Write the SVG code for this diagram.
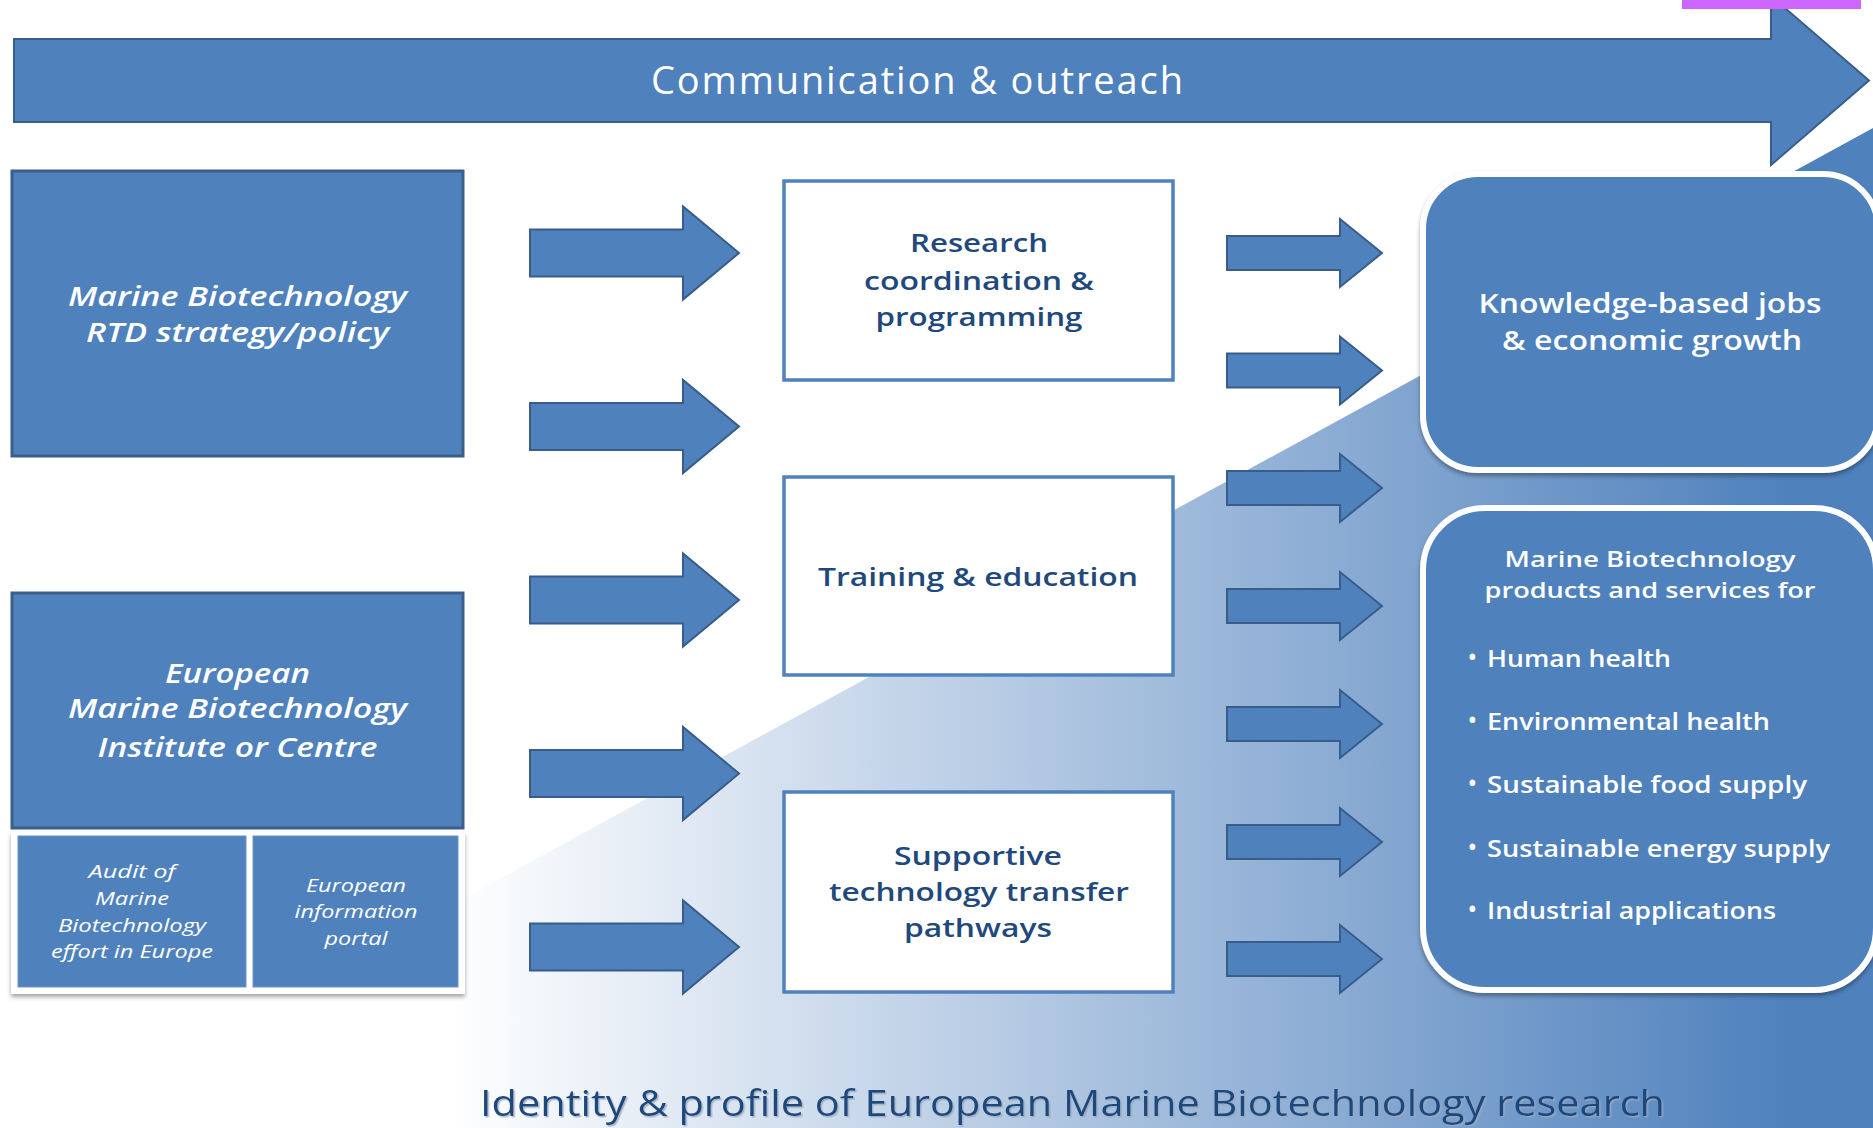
<svg xmlns="http://www.w3.org/2000/svg" width="1873" height="1128" viewBox="0 0 1873 1128">
  <defs>
    <linearGradient id="bgGrad" gradientUnits="userSpaceOnUse" x1="450" y1="0" x2="1790" y2="0">
      <stop offset="0" stop-color="#ffffff"/>
      <stop offset="1" stop-color="#4f81bd"/>
    </linearGradient>
    <filter id="shadow" x="-5%" y="-5%" width="115%" height="120%">
      <feDropShadow dx="0" dy="3" stdDeviation="2" flood-color="#000000" flood-opacity="0.35"/>
    </filter>
    <filter id="txtShadow" x="-2%" y="-20%" width="104%" height="150%">
      <feDropShadow dx="1.5" dy="1.5" stdDeviation="0.6" flood-color="#9aa9bd" flood-opacity="0.8"/>
    </filter>
    <!-- block arrow, left column -->
    <path id="arrowL" d="M530,-23.5 H683 V-46.5 L739,0 L683,46.5 V23.5 H530 Z"/>
    <!-- block arrow, right column -->
    <path id="arrowR" d="M1227,-17 H1340 V-34 L1382,0 L1340,34 V17 H1227 Z"/>
  </defs>
  <style>
    .blue { fill: #4f81bd; stroke: #3a5f8b; stroke-width: 3; }
    .arrow { fill: #4f81bd; stroke: #385d8a; stroke-width: 2; stroke-linejoin: miter; }
    .mid { fill: #ffffff; stroke: #4f81bd; stroke-width: 3.5; }
    .sub { fill: #4f81bd; stroke: #6d97c9; stroke-width: 1; }
    .round { fill: #4f81bd; stroke: #ffffff; stroke-width: 6; }
    .it { font-family: "Open Sans", "DejaVu Sans", sans-serif; font-style: italic; fill: #ffffff; text-anchor: middle; }
    .itBig { font-size: 27px; font-weight: 600; }
    .itSmall { font-size: 18px; }
    .midTxt { font-family: "Open Sans", "Liberation Sans", sans-serif; font-weight: 600; font-size: 25px; fill: #1f497d; text-anchor: middle; }
    .rTxt { font-family: "Open Sans", "DejaVu Sans", sans-serif; font-weight: 600; fill: #ffffff; }
    .banner { font-family: "Open Sans", "Liberation Sans", sans-serif; font-size: 38px; font-weight: 500; fill: #ffffff; text-anchor: middle; }
    .foot { font-family: "Open Sans", "Liberation Sans", sans-serif; font-size: 36px; fill: #1f497d; }
  </style>

  <!-- background: white page with a diagonal blue wedge rising to the right -->
  <rect x="0" y="0" width="1873" height="1128" fill="#ffffff"/>
  <polygon points="44,1128 1873,128 1873,1128" fill="url(#bgGrad)"/>

  <!-- top banner arrow -->
  <g id="banner">
    <path class="arrow" d="M14,39 H1771 V-4 L1869,80.5 L1771,165 V122 H14 Z" stroke-width="2.5"/>
    <text class="banner" x="917" y="94" textLength="532" lengthAdjust="spacing">Communication &amp; outreach</text>
  </g>

  <!-- left column -->
  <g id="strategy">
    <rect class="blue" x="12" y="171" width="451" height="285"/>
    <text class="it itBig" x="237.5" y="306" textLength="339" lengthAdjust="spacingAndGlyphs">Marine Biotechnology</text>
    <text class="it itBig" x="237.5" y="342" textLength="303" lengthAdjust="spacingAndGlyphs">RTD strategy/policy</text>
  </g>

  <g id="institute">
    <rect class="blue" x="12" y="593" width="451" height="235"/>
    <text class="it itBig" x="237.5" y="683" textLength="145" lengthAdjust="spacingAndGlyphs">European</text>
    <text class="it itBig" x="237.5" y="718" textLength="339" lengthAdjust="spacingAndGlyphs">Marine Biotechnology</text>
    <text class="it itBig" x="237.5" y="757" textLength="280" lengthAdjust="spacingAndGlyphs">Institute or Centre</text>
  </g>

  <g id="institute-parts">
    <rect x="11" y="832" width="454" height="162" fill="#ffffff" filter="url(#shadow)"/>
    <g id="audit">
      <rect class="sub" x="18" y="836" width="228" height="151"/>
      <text class="it itSmall" x="132" y="878" textLength="87" lengthAdjust="spacingAndGlyphs">Audit of</text>
      <text class="it itSmall" x="132" y="905" textLength="74" lengthAdjust="spacingAndGlyphs">Marine</text>
      <text class="it itSmall" x="132" y="932" textLength="148" lengthAdjust="spacingAndGlyphs">Biotechnology</text>
      <text class="it itSmall" x="132" y="958" textLength="162" lengthAdjust="spacingAndGlyphs">effort in Europe</text>
    </g>
    <g id="portal">
      <rect class="sub" x="253" y="836" width="205" height="151"/>
      <text class="it itSmall" x="356" y="892" textLength="100" lengthAdjust="spacingAndGlyphs">European</text>
      <text class="it itSmall" x="356" y="918" textLength="123" lengthAdjust="spacingAndGlyphs">information</text>
      <text class="it itSmall" x="356" y="945" textLength="63" lengthAdjust="spacingAndGlyphs">portal</text>
    </g>
  </g>

  <!-- middle column -->
  <g id="research">
    <rect class="mid" x="784" y="181" width="389" height="199"/>
    <text class="midTxt" x="979" y="252" textLength="138" lengthAdjust="spacingAndGlyphs">Research</text>
    <text class="midTxt" x="979" y="290" textLength="230" lengthAdjust="spacingAndGlyphs">coordination &amp;</text>
    <text class="midTxt" x="979" y="326" textLength="207" lengthAdjust="spacingAndGlyphs">programming</text>
  </g>

  <g id="training">
    <rect class="mid" x="784" y="477" width="389" height="198"/>
    <text class="midTxt" x="978" y="586" textLength="320" lengthAdjust="spacingAndGlyphs">Training &amp; education</text>
  </g>

  <g id="transfer">
    <rect class="mid" x="784" y="792" width="389" height="200"/>
    <text class="midTxt" x="978" y="865" textLength="168" lengthAdjust="spacingAndGlyphs">Supportive</text>
    <text class="midTxt" x="979" y="901" textLength="300" lengthAdjust="spacingAndGlyphs">technology transfer</text>
    <text class="midTxt" x="978" y="937" textLength="148" lengthAdjust="spacingAndGlyphs">pathways</text>
  </g>

  <!-- right column -->
  <g id="jobs">
    <rect class="round" x="1423" y="174" width="455" height="296" rx="55" ry="55" filter="url(#shadow)"/>
    <text class="rTxt" x="1650" y="313" font-size="27" text-anchor="middle" textLength="343" lengthAdjust="spacingAndGlyphs">Knowledge-based jobs</text>
    <text class="rTxt" x="1652" y="350" font-size="27" text-anchor="middle" textLength="300" lengthAdjust="spacingAndGlyphs">&amp; economic growth</text>
  </g>

  <g id="products">
    <rect class="round" x="1423" y="508" width="453" height="482" rx="62" ry="62" filter="url(#shadow)"/>
    <text class="rTxt" x="1650" y="567" font-size="22" text-anchor="middle" textLength="291" lengthAdjust="spacingAndGlyphs">Marine Biotechnology</text>
    <text class="rTxt" x="1650" y="598" font-size="22" text-anchor="middle" textLength="331" lengthAdjust="spacingAndGlyphs">products and services for</text>
    <g font-size="23">
      <text class="rTxt" x="1468" y="665">•</text>
      <text class="rTxt" x="1487" y="667" textLength="184" lengthAdjust="spacingAndGlyphs">Human health</text>
      <text class="rTxt" x="1468" y="728">•</text>
      <text class="rTxt" x="1487" y="730" textLength="283" lengthAdjust="spacingAndGlyphs">Environmental health</text>
      <text class="rTxt" x="1468" y="791">•</text>
      <text class="rTxt" x="1487" y="793" textLength="320" lengthAdjust="spacingAndGlyphs">Sustainable food  supply</text>
      <text class="rTxt" x="1468" y="855">•</text>
      <text class="rTxt" x="1487" y="857" textLength="343" lengthAdjust="spacingAndGlyphs">Sustainable energy supply</text>
      <text class="rTxt" x="1468" y="917">•</text>
      <text class="rTxt" x="1487" y="919" textLength="289" lengthAdjust="spacingAndGlyphs">Industrial applications</text>
    </g>
  </g>

  <!-- connectors: block arrows between the columns -->
  <g id="connectors" class="arrow">
    <use href="#arrowL" transform="translate(0,253)"/>
    <use href="#arrowL" transform="translate(0,426.5)"/>
    <use href="#arrowL" transform="translate(0,600)"/>
    <use href="#arrowL" transform="translate(0,773.5)"/>
    <use href="#arrowL" transform="translate(0,947)"/>
    <use href="#arrowR" transform="translate(0,253)"/>
    <use href="#arrowR" transform="translate(0,370.5)"/>
    <use href="#arrowR" transform="translate(0,488)"/>
    <use href="#arrowR" transform="translate(0,606)"/>
    <use href="#arrowR" transform="translate(0,724)"/>
    <use href="#arrowR" transform="translate(0,842)"/>
    <use href="#arrowR" transform="translate(0,959)"/>
  </g>

  <!-- footer caption -->
  <g id="caption">
    <text class="foot" x="480" y="1116" textLength="1185" lengthAdjust="spacingAndGlyphs" filter="url(#txtShadow)">Identity &amp; profile of European Marine Biotechnology research</text>
  </g>

  <!-- tab mark at top right -->
  <rect x="1682" y="0" width="179" height="9" fill="#cc66ff"/>
</svg>
